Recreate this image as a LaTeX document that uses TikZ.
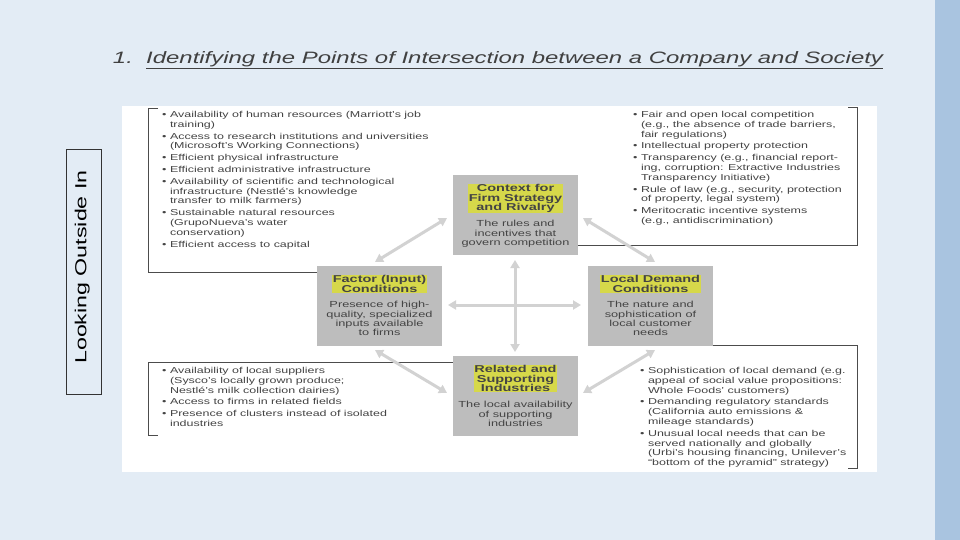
\documentclass[tikz,border=0pt]{standalone}
\usepackage{fontspec}
\setmainfont[FakeStretch=1.45]{Liberation Sans}
\usetikzlibrary{arrows.meta}
\definecolor{bgc}{HTML}{E3ECF5}
\definecolor{edge}{HTML}{A9C4E0}
\definecolor{boxg}{HTML}{BDBDBD}
\definecolor{arr}{HTML}{D2D2D2}
\definecolor{hl}{HTML}{D6D84A}
\definecolor{txt}{HTML}{444444}
\tikzset{
 fbox/.style={fill=boxg,minimum width=125pt,minimum height=80pt,inner sep=0pt},
 head/.style={font=\fontsize{10}{9.4}\selectfont\bfseries,text=txt,fill=hl,inner sep=0.5pt,align=center},
 body/.style={font=\fontsize{8.8}{9.2}\selectfont,text=txt,align=center},
 list/.style={font=\fontsize{8.6}{9.8}\selectfont,text=txt,align=left,anchor=north west,inner sep=0pt},
 brk/.style={draw=black!70,line width=0.8pt},
 darr/.style={draw=arr,line width=3pt,{Triangle[length=8pt,width=9pt]}-{Triangle[length=8pt,width=9pt]}}
}
\begin{document}
\begin{tikzpicture}[x=1pt,y=-1pt]
\fill[bgc] (0,0) rectangle (960,540);
\fill[edge] (935,0) rectangle (960,540);
\useasboundingbox (0,0) rectangle (960,540);
\fill[white] (122,106) rectangle (877,472);
\node[font=\fontsize{16.5}{16.5}\selectfont\itshape,text=black!75] (title) at (498,60) {1.\ \ \underline{Identifying the Points of Intersection between a Company and Society}};
\node[draw=black!80,line width=0.8pt,minimum width=245pt,minimum height=35pt,rotate=90,font=\fontsize{16}{16}\selectfont,inner sep=0pt] (side) at (83.5,272) {\raisebox{-6pt}{}\hspace{10pt}Looking Outside In};
% brackets
\draw[brk] (158,108) -- (148,108) -- (148,272) -- (317,272);
\draw[brk] (848,107) -- (857,107) -- (857,245) -- (578,245);
\draw[brk] (453,362) -- (148,362) -- (148,435) -- (158,435);
\draw[brk] (713,345) -- (857,345) -- (857,468) -- (848,468);
% boxes
\node[fbox] (top) at (515.5,215) {};
\node[fbox] (left) at (379.5,306) {};
\node[fbox] (right) at (650.5,306) {};
\node[fbox] (bot) at (515.5,396) {};
\node[head,anchor=north] (th) at (515.5,184) {Context for\\Firm Strategy\\and Rivalry};
\node[body,anchor=north] (tb) at (515.5,217) {The rules and\\incentives that\\govern competition};
\node[head,anchor=north] (lh) at (379.5,275) {Factor (Input)\\Conditions};
\node[body,anchor=north] (lb) at (379.5,298) {Presence of high-\\quality, specialized\\inputs available\\to firms};
\node[head,anchor=north] (rh) at (650.5,275) {Local Demand\\Conditions};
\node[body,anchor=north] (rb) at (650.5,298) {The nature and\\sophistication of\\local customer\\needs};
\node[head,anchor=north] (bh) at (515.5,365) {Related and\\Supporting\\Industries};
\node[body,anchor=north] (bb) at (515.5,398) {The local availability\\of supporting\\industries};
% arrows
\coordinate (a1) at (447,218); \coordinate (a2) at (375,262);
\coordinate (b1) at (583,218); \coordinate (b2) at (655,262);
\coordinate (c1) at (375,350); \coordinate (c2) at (447,393);
\coordinate (d1) at (655,350); \coordinate (d2) at (583,393);
\coordinate (h1) at (448,305); \coordinate (h2) at (581,305);
\coordinate (v1) at (515,260); \coordinate (v2) at (515,352);
\draw[darr] (a1) -- (a2);
\draw[darr] (b1) -- (b2);
\draw[darr] (c1) -- (c2);
\draw[darr] (d1) -- (d2);
\draw[darr] (h1) -- (h2);
\draw[darr] (v1) -- (v2);
% lists
\node[list] (tl) at (162,111) {%
• Availability of human resources (Marriott's job\\\hphantom{• }training)\\[2pt]
• Access to research institutions and universities\\\hphantom{• }(Microsoft's Working Connections)\\[2pt]
• Efficient physical infrastructure\\[2pt]
• Efficient administrative infrastructure\\[2pt]
• Availability of scientific and technological\\\hphantom{• }infrastructure (Nestlé's knowledge\\\hphantom{• }transfer to milk farmers)\\[2pt]
• Sustainable natural resources\\\hphantom{• }(GrupoNueva's water\\\hphantom{• }conservation)\\[2pt]
• Efficient access to capital};
\node[list] (tr) at (633,111) {%
• Fair and open local competition\\\hphantom{• }(e.g., the absence of trade barriers,\\\hphantom{• }fair regulations)\\[2pt]
• Intellectual property protection\\[2pt]
• Transparency (e.g., financial report-\\\hphantom{• }ing, corruption: Extractive Industries\\\hphantom{• }Transparency Initiative)\\[2pt]
• Rule of law (e.g., security, protection\\\hphantom{• }of property, legal system)\\[2pt]
• Meritocratic incentive systems\\\hphantom{• }(e.g., antidiscrimination)};
\node[list] (bl) at (162,367) {%
• Availability of local suppliers\\\hphantom{• }(Sysco's locally grown produce;\\\hphantom{• }Nestlé's milk collection dairies)\\[2pt]
• Access to firms in related fields\\[2pt]
• Presence of clusters instead of isolated\\\hphantom{• }industries};
\node[list] (br) at (640,367) {%
• Sophistication of local demand (e.g.\\\hphantom{• }appeal of social value propositions:\\\hphantom{• }Whole Foods' customers)\\[2pt]
• Demanding regulatory standards\\\hphantom{• }(California auto emissions \&\\\hphantom{• }mileage standards)\\[2pt]
• Unusual local needs that can be\\\hphantom{• }served nationally and globally\\\hphantom{• }(Urbi's housing financing, Unilever's\\\hphantom{• }``bottom of the pyramid'' strategy)};
\end{tikzpicture}
\end{document}
